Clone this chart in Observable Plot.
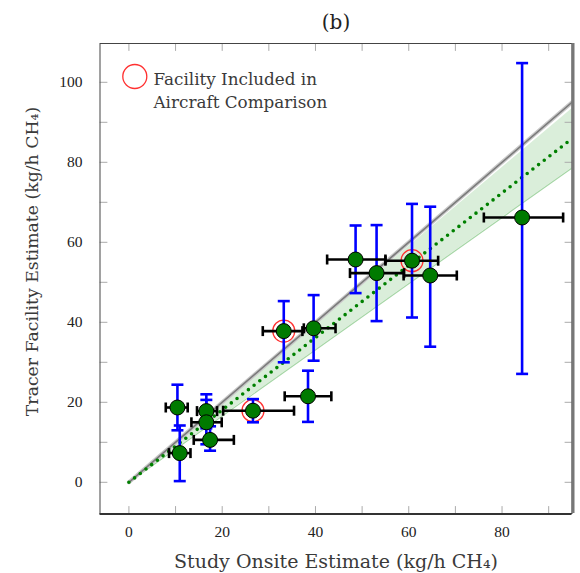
<!DOCTYPE html>
<html>
<head>
<meta charset="utf-8">
<script src="https://cdn.jsdelivr.net/npm/d3@7"></script>
<script src="https://cdn.jsdelivr.net/npm/@observablehq/plot@0.6"></script>
<style>
  html, body { margin: 0; padding: 0; background: #fff; }
  #chart { width: 580px; height: 573px; }
</style>
</head>
<body>
<div id="chart"></div>
<script>
// ---- Data ----
const onsite      = [10.4, 10.9, 16.6, 16.6, 17.4, 26.6, 33.2, 39.6, 38.4, 48.6, 53.1, 60.7, 64.6, 84.3];
const tracer      = [18.7,  7.3, 17.8, 15.0, 10.6, 17.9, 37.8, 38.5, 21.5, 55.7, 52.3, 55.4, 51.7, 66.2];
const onsiteLow   = [ 7.9,  8.6, 14.6, 13.4, 13.9, 20.2, 28.7, 37.5, 33.4, 42.5, 47.4, 55.0, 58.9, 76.1];
const onsiteHigh  = [12.6, 13.2, 18.9, 19.9, 22.5, 35.4, 37.2, 44.3, 43.4, 55.0, 59.0, 66.3, 70.3, 93.1];
const tracerLow   = [13.0,  0.3, 13.5,  9.5,  7.9, 15.0, 30.0, 30.4, 15.1, 47.3, 40.3, 41.2, 33.9, 27.1];
const tracerHigh  = [24.4, 14.2, 22.0, 20.6, 14.0, 20.8, 45.3, 46.8, 27.9, 64.2, 64.3, 69.6, 68.9, 104.8];
const inAircraft  = [false, false, false, false, false, true, true, false, false, false, false, true, false, false];

// regression fit (central estimate with confidence band) and 1:1 line
const fitX    = [0, 95];
const fitLow  = [0, 78.6];
const fitMid  = [0, 85.9];
const fitHigh = [0, 93.4];
const oneToOneX = [0, 95];
const oneToOneY = [0, 95];

const xMajorTicks = [0, 20, 40, 60, 80];
const xMinorTicks = [10, 30, 50, 70, 90];
const yMajorTicks = [0, 20, 40, 60, 80, 100];
const yMinorTicks = [10, 30, 50, 70, 90];

const xDomain = [-6.2, 95.0];
const yDomain = [-7.8, 109.7];

const title = "(b)";
const xLabel = "Study Onsite Estimate (kg/h CH\u2084)";
const yLabel = "Tracer Facility Estimate (kg/h CH\u2084)";
const legendLabel = "Facility Included in\nAircraft Comparison";

// ---- Build tables ----
const points = onsite.map((x, i) => ({
  x, y: tracer[i],
  xLo: onsiteLow[i], xHi: onsiteHigh[i],
  yLo: tracerLow[i], yHi: tracerHigh[i],
  aircraft: inAircraft[i]
}));
const fit = fitX.map((x, i) => ({x, lo: fitLow[i], mid: fitMid[i], hi: fitHigh[i]}));
const oneToOne = oneToOneX.map((x, i) => ({x, y: oneToOneY[i]}));
const xTicksAll = xMajorTicks.concat(xMinorTicks);
const yTicksAll = yMajorTicks.concat(yMinorTicks);

// custom cap symbols
const capH = { draw(ctx, size) { const r = Math.sqrt(size / Math.PI); ctx.moveTo(-r, 0); ctx.lineTo(r, 0); } };
const capV = { draw(ctx, size) { const r = Math.sqrt(size / Math.PI); ctx.moveTo(0, -r); ctx.lineTo(0, r); } };
// straight tick shape for vectors
const tickShape = { draw(ctx, l) { ctx.moveTo(0, 0); ctx.lineTo(0, -l); } };

const serif = "'DejaVu Serif', 'Liberation Serif', serif";
const numFont = "'Liberation Serif', serif";
const tickColor = "#aaa";
const tickLen = 7;
const textColor = "#3a3a3a";

const chart = Plot.plot({
  width: 580,
  height: 573,
  marginLeft: 99.5,
  marginRight: 8.5,
  marginTop: 43,
  marginBottom: 60,
  style: { fontFamily: serif, background: "#fff", color: "#222" },
  x: { domain: xDomain, axis: null },
  y: { domain: yDomain, axis: null },
  marks: [
    // confidence band of fit
    Plot.areaY(fit, { x: "x", y1: "lo", y2: "hi", fill: "#d4ebd4", fillOpacity: 0.85, clip: true }),
    Plot.lineY(fit, { x: "x", y: "lo", stroke: "#a6d6a6", strokeWidth: 1.2, clip: true }),
    // 1:1 line
    Plot.lineY(oneToOne, { x: "x", y: "y", stroke: "#c8c8c8", strokeWidth: 4, clip: true }),
    Plot.lineY(oneToOne, { x: "x", y: "y", stroke: "#7a7a7a", strokeWidth: 1.6, clip: true }),
    // fitted line (dotted)
    Plot.lineY(fit, { x: "x", y: "mid", stroke: "#008000", strokeWidth: 3.6, strokeDasharray: "0,7.2", strokeLinecap: "round", clip: true }),

    // ticks (inward, all four sides)
    Plot.vector(xTicksAll, { x: d => d, frameAnchor: "bottom", length: tickLen, rotate: 0, anchor: "start", shape: tickShape, stroke: tickColor, strokeWidth: 1 }),
    Plot.vector(xTicksAll, { x: d => d, frameAnchor: "top", length: tickLen, rotate: 180, anchor: "start", shape: tickShape, stroke: tickColor, strokeWidth: 1 }),
    Plot.vector(yTicksAll, { y: d => d, frameAnchor: "left", length: tickLen, rotate: 90, anchor: "start", shape: tickShape, stroke: tickColor, strokeWidth: 1 }),
    Plot.vector(yTicksAll, { y: d => d, frameAnchor: "right", length: tickLen, rotate: -90, anchor: "start", shape: tickShape, stroke: tickColor, strokeWidth: 1 }),
    // tick labels
    Plot.text(xMajorTicks, { x: d => d, frameAnchor: "bottom", dy: 18.7, lineAnchor: "middle", text: d => String(d), fontSize: 15.5, fontFamily: numFont, fill: "#222" }),
    Plot.text(yMajorTicks, { y: d => d, frameAnchor: "left", dx: -17.5, textAnchor: "end", lineAnchor: "middle", text: d => String(d), fontSize: 15.5, fontFamily: numFont, fill: "#222" }),

    // aircraft comparison highlight
    Plot.dot(points.filter(d => d.aircraft), { x: "x", y: "y", r: 11, stroke: "#ff3030", strokeWidth: 1.3, fill: "none" }),

    // vertical (tracer) error bars
    Plot.ruleX(points, { x: "x", y1: "yLo", y2: "yHi", stroke: "#0000ff", strokeWidth: 2.6 }),
    Plot.dot(points, { x: "x", y: "yLo", symbol: capH, r: 6, stroke: "#0000ff", strokeWidth: 2.6, fill: "none" }),
    Plot.dot(points, { x: "x", y: "yHi", symbol: capH, r: 6, stroke: "#0000ff", strokeWidth: 2.6, fill: "none" }),
    // horizontal (onsite) error bars
    Plot.ruleY(points, { y: "y", x1: "xLo", x2: "xHi", stroke: "#000", strokeWidth: 2.6 }),
    Plot.dot(points, { x: "xLo", y: "y", symbol: capV, r: 5, stroke: "#000", strokeWidth: 2.6, fill: "none" }),
    Plot.dot(points, { x: "xHi", y: "y", symbol: capV, r: 5, stroke: "#000", strokeWidth: 2.6, fill: "none" }),
    // points
    Plot.dot(points, { x: "x", y: "y", r: 7.5, fill: "#007a00", stroke: "#000", strokeWidth: 1 }),

    // frame
    Plot.frame({ stroke: "#444", strokeWidth: 1 }),
    Plot.ruleX([xDomain[1]], { stroke: "#777", strokeWidth: 3, dx: 1 }),
    Plot.ruleY([yDomain[0]], { stroke: "#333", strokeWidth: 2, dy: 0.5 }),

    // legend
    Plot.dot([legendLabel], { frameAnchor: "top-left", dx: 34.8, dy: 33, r: 12, stroke: "#ff3030", strokeWidth: 1.3, fill: "none" }),
    Plot.text([legendLabel], { frameAnchor: "top-left", dx: 53.5, dy: 45.5, textAnchor: "start", lineAnchor: "middle", lineHeight: 1.37, fontSize: 16.8, fill: textColor, text: d => d }),

    // title and axis labels
    Plot.text([title], { frameAnchor: "top", dy: -21, fontSize: 20, fill: "#222", lineAnchor: "middle", textAnchor: "middle", text: d => d }),
    Plot.text([xLabel], { frameAnchor: "bottom", dy: 48.7, fontSize: 19, fill: textColor, lineAnchor: "middle", textAnchor: "middle", text: d => d }),
    Plot.text([yLabel], { frameAnchor: "left", dx: -67.5, dy: -17, rotate: -90, fontSize: 17.3, fill: textColor, lineAnchor: "middle", textAnchor: "middle", text: d => d })
  ]
});

document.getElementById("chart").appendChild(chart);
</script>
</body>
</html>
